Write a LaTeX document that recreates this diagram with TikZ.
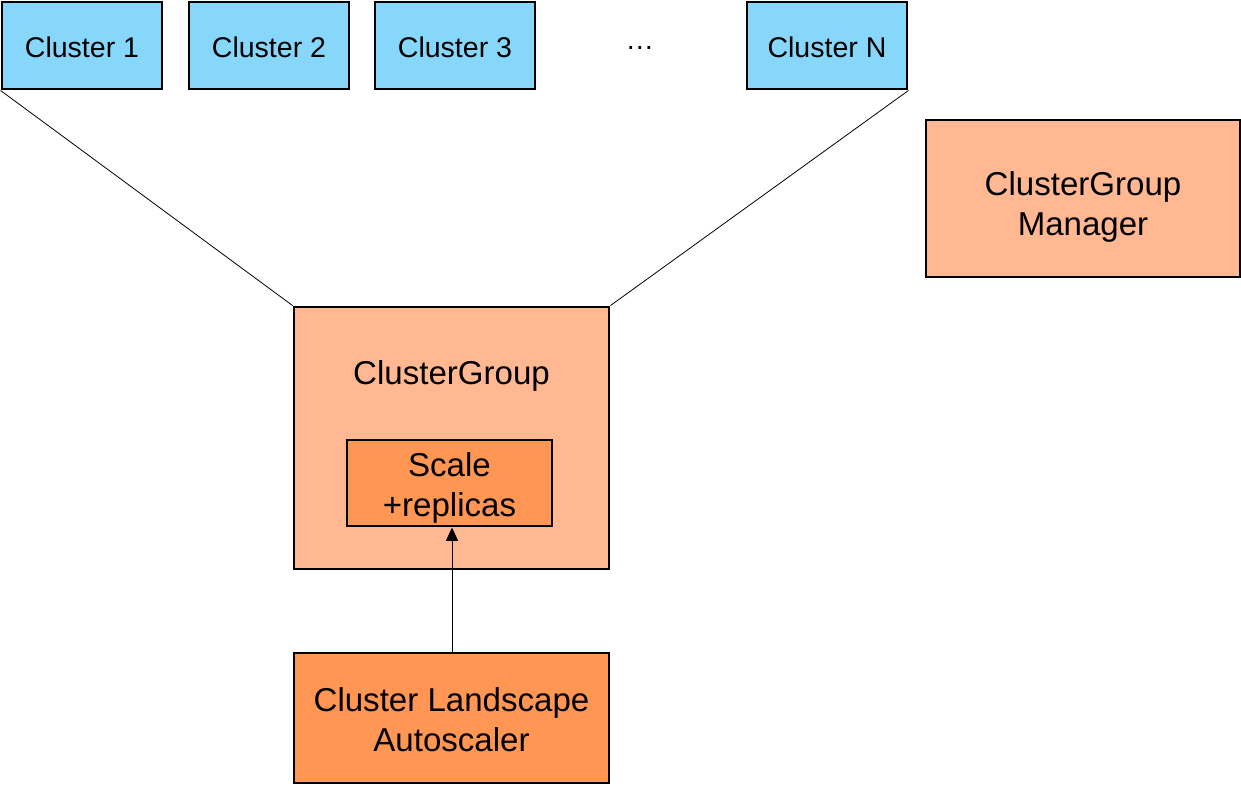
\documentclass[tikz,border=0pt]{standalone}
\usepackage{fontspec}
\setmainfont{Liberation Sans}
\usetikzlibrary{arrows.meta}
\definecolor{cblue}{HTML}{87D7FB}
\definecolor{lorange}{HTML}{FFB891}
\definecolor{dorange}{HTML}{FF9654}
\begin{document}
\begin{tikzpicture}[x=0.75pt,y=-0.75pt,
  box/.style={draw=black,line width=2.2pt,align=center,inner sep=0pt},
  clus/.style={box,fill=cblue,minimum width=120pt,minimum height=65.25pt},
  small/.style={font=\fontsize{21.4}{25}\selectfont},
  bigtxt/.style={align=center,font=\fontsize{24.8}{30}\selectfont},
  conn/.style={line width=0.6pt}]
\useasboundingbox (0,0) rectangle (1241,785);
\node[clus] (c1) at (82,45.5) {};
\node[clus] (c2) at (269,45.5) {};
\node[clus] (c3) at (455,45.5) {};
\node[clus] (cn) at (827,45.5) {};
\node[small] (c1t) at (82,47) {Cluster 1};
\node[small] (c2t) at (269,47) {Cluster 2};
\node[small] (c3t) at (455,47) {Cluster 3};
\node[small] (dots) at (640,48) {\dots};
\node[small] (cnt) at (827,47) {Cluster N};
\node[box,fill=lorange,minimum width=235.5pt,minimum height=117.75pt] (mgr) at (1083,198.5) {};
\node[bigtxt] (mgrt) at (1083,207) {ClusterGroup\\Manager};
\node[box,fill=lorange,minimum width=236.25pt,minimum height=196.5pt] (cg) at (451.5,438) {};
\node[bigtxt] (cgl) at (451.5,376) {ClusterGroup};
\node[box,fill=dorange,minimum width=153.75pt,minimum height=64.5pt] (sc) at (449.5,483) {};
\node[bigtxt] (sct) at (449.5,488) {Scale\\+replicas};
\node[box,fill=dorange,minimum width=236.25pt,minimum height=97.5pt] (as) at (451.5,718) {};
\node[bigtxt] (ast) at (451.5,719.5) {Cluster Landscape\\Autoscaler};
\draw[conn] (c1.south west) -- (cg.north west);
\draw[conn] (cn.south east) -- (cg.north east);
\draw[conn,-{Triangle[length=10pt,width=9pt]}] (as.north -| 452,0) -- (sc.south -| 452,0);
\end{tikzpicture}
\end{document}
